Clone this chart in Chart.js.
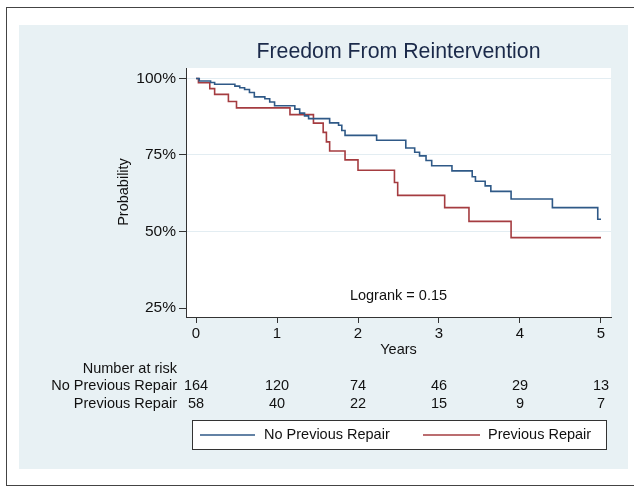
<!DOCTYPE html>
<html>
<head>
<meta charset="utf-8">
<script src="https://cdn.jsdelivr.net/npm/chart.js@4"></script>
<style>
  html, body { margin: 0; padding: 0; width: 634px; height: 487px; overflow: hidden; background: #fff; }
  #frame { position: absolute; left: 6px; top: 7px; width: 700px; height: 477px; border: 1.5px solid #444; }
  #panel { position: absolute; left: 19px; top: 25px; width: 609px; height: 444px; background: #e8f1f4; }
  canvas { position: absolute; left: 0; top: 0; }
</style>
</head>
<body>
<div id="frame"></div>
<div id="panel"></div>
<canvas id="km" width="634" height="487"></canvas>
<script>
// Kaplan-Meier steps: time in years, survival in %
const noPrevTime = [0, 0.04, 0.18, 0.23, 0.48, 0.54, 0.60, 0.66, 0.72, 0.85, 0.91, 0.97, 1.22, 1.28, 1.34, 1.39, 1.65, 1.76, 1.80, 1.84, 2.23, 2.59, 2.70, 2.76, 2.84, 2.91, 3.16, 3.41, 3.45, 3.57, 3.64, 3.89, 4.40, 4.96, 5.0];
const noPrevSurv = [100, 99.2, 98.7, 98.1, 97.5, 97.0, 96.4, 95.4, 94.0, 93.4, 92.3, 91.1, 90.0, 88.7, 87.8, 86.9, 85.5, 84.7, 83.0, 81.4, 79.8, 77.3, 75.9, 74.7, 73.2, 71.5, 69.8, 67.9, 66.4, 64.9, 63.1, 60.6, 57.8, 54.0, 54.0];
const prevTime = [0, 0.03, 0.17, 0.23, 0.40, 0.50, 1.16, 1.45, 1.57, 1.61, 1.65, 1.84, 2.00, 2.45, 2.49, 3.07, 3.37, 3.89, 5.0];
const prevSurv = [100, 98.6, 96.7, 94.8, 92.5, 90.4, 88.2, 85.4, 82.4, 79.3, 76.3, 73.4, 70.0, 66.0, 61.8, 57.8, 53.3, 48.0, 48.0];

const seriesNames = ['No Previous Repair', 'Previous Repair'];
const years = [0, 1, 2, 3, 4, 5];
const yTicks = [25, 50, 75, 100];
const riskNoPrev = [164, 120, 74, 46, 29, 13];
const riskPrev = [58, 40, 22, 15, 9, 7];

const BLUE = '#2f5987';
const RED = '#a53c40';
const FONT = '"Liberation Sans", Arial, Helvetica, sans-serif';

const toPoints = (t, s) => t.map((x, i) => ({ x: x, y: s[i] }));

const extras = {
  id: 'extras',
  beforeDraw(chart) {
    const { ctx, chartArea: a } = chart;
    ctx.save();
    ctx.fillStyle = '#fff';
    ctx.fillRect(a.left, a.top, a.right - a.left, a.bottom - a.top);
    ctx.restore();
  },
  afterDraw(chart) {
    const { ctx, chartArea: a } = chart;
    const xs = chart.scales.x;
    const cx = (a.left + a.right) / 2;
    ctx.save();
    ctx.textBaseline = 'middle';

    // title
    ctx.fillStyle = '#1b2a4a';
    ctx.font = '21.3px ' + FONT;
    ctx.textAlign = 'center';
    ctx.fillText('Freedom From Reintervention', cx, 52);

    ctx.fillStyle = '#111';
    ctx.font = '14.5px ' + FONT;
    ctx.fillText('Years', cx, 350);
    ctx.fillText('Logrank = 0.15', cx, 296);

    ctx.save();
    ctx.translate(124, 192);
    ctx.rotate(-Math.PI / 2);
    ctx.fillText('Probability', 0, 0);
    ctx.restore();

    // number at risk table
    ctx.textAlign = 'right';
    ctx.fillText('Number at risk', 177, 369);
    ctx.fillText(seriesNames[0], 177, 386);
    ctx.fillText(seriesNames[1], 177, 404);
    ctx.textAlign = 'center';
    years.forEach((yr, i) => {
      const px = xs.getPixelForValue(yr);
      ctx.fillText(String(riskNoPrev[i]), px, 386);
      ctx.fillText(String(riskPrev[i]), px, 404);
    });

    // legend
    ctx.fillStyle = '#fff';
    ctx.fillRect(192.5, 420.5, 414, 29);
    ctx.strokeStyle = '#333';
    ctx.lineWidth = 1;
    ctx.strokeRect(192.5, 420.5, 414, 29);
    ctx.lineWidth = 1.6;
    ctx.strokeStyle = BLUE;
    ctx.beginPath(); ctx.moveTo(200, 435); ctx.lineTo(255, 435); ctx.stroke();
    ctx.strokeStyle = RED;
    ctx.beginPath(); ctx.moveTo(423, 435); ctx.lineTo(480, 435); ctx.stroke();
    ctx.fillStyle = '#111';
    ctx.textAlign = 'left';
    ctx.fillText(seriesNames[0], 264, 435);
    ctx.fillText(seriesNames[1], 488, 435);
    ctx.restore();
  }
};

new Chart(document.getElementById('km'), {
  type: 'line',
  data: {
    datasets: [
      { label: seriesNames[0], data: toPoints(noPrevTime, noPrevSurv), borderColor: BLUE, borderWidth: 1.6, stepped: 'before', pointRadius: 0, fill: false },
      { label: seriesNames[1], data: toPoints(prevTime, prevSurv), borderColor: RED, borderWidth: 1.6, stepped: 'before', pointRadius: 0, fill: false }
    ]
  },
  options: {
    responsive: false,
    animation: false,
    devicePixelRatio: 1,
    layout: { padding: { left: 0, top: 68, right: 23, bottom: 140 } },
    plugins: { legend: { display: false }, title: { display: false }, tooltip: { enabled: false } },
    scales: {
      x: {
        type: 'linear',
        min: -0.1235,
        max: 5.1235,
        afterFit: s => { s.height = 30; },
        afterBuildTicks: s => { s.ticks = years.map(v => ({ value: v })); },
        grid: { drawOnChartArea: false, tickLength: 6, tickColor: '#333' },
        border: { color: '#333', width: 1 },
        ticks: { color: '#111', font: { family: FONT, size: 15 }, padding: 2, maxRotation: 0, autoSkip: false }
      },
      y: {
        min: 22.06,
        max: 103.43,
        afterFit: s => { s.width = 186; },
        afterBuildTicks: s => { s.ticks = yTicks.map(v => ({ value: v })); },
        grid: {
          tickLength: 7,
          tickColor: '#333',
          color: ctx => (ctx.tick && ctx.tick.value === 25) ? 'rgba(0,0,0,0)' : '#e3edf2'
        },
        border: { color: '#333', width: 1 },
        ticks: { color: '#111', font: { family: FONT, size: 15.5 }, padding: 3, callback: v => v + '%' }
      }
    }
  },
  plugins: [extras]
});
</script>
</body>
</html>
